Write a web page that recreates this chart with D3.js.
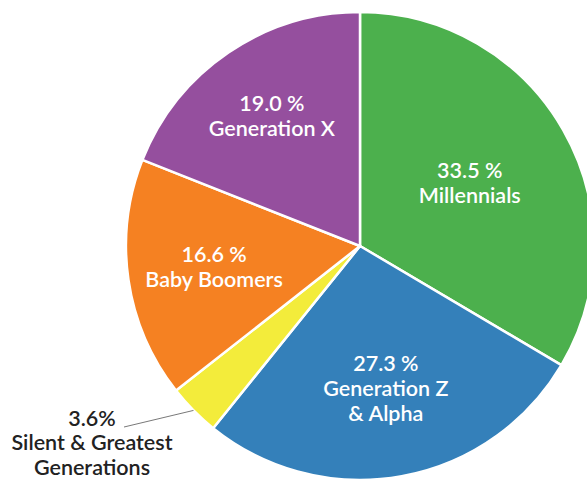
<!DOCTYPE html>
<html>
<head>
<meta charset="utf-8">
<script src="https://cdn.jsdelivr.net/npm/d3@7"></script>
<style>
    body { margin: 0; background: #fff; }
    svg { display: block; font-family: Lato, "Open Sans", sans-serif; }
</style>
</head>
<body>
<div id="chart"></div>
<script>
// data
const generations = ["Millennials", "Generation Z\n& Alpha", "Silent & Greatest\nGenerations", "Baby Boomers", "Generation X"];
const shares = [33.5, 27.3, 3.6, 16.6, 19.0];
const shareLabels = ["33.5 %", "27.3 %", "3.6%", "16.6 %", "19.0 %"];
const colors = ["#4cb04d", "#3480ba", "#f3ec3b", "#f58122", "#954f9e"];

const width = 587, height = 481;
const cx = 360, cy = 246, radius = 234;
const fontSize = 21.5, lineH = 25;

// label distance from centre, as fraction of radius (inside labels)
const labelRadius = [0.54, 0.62, null, 0.63, 0.67];

const svg = d3.select("#chart")
    .append("svg")
    .attr("width", width)
    .attr("height", height);

const chart = svg.append("g")
    .attr("transform", `translate(${cx},${cy})`);

const data = generations.map((g, i) => ({ name: g, value: shares[i], label: shareLabels[i], color: colors[i], i: i }));

const pie = d3.pie()
    .value(d => d.value)
    .sort(null);

const arcs = pie(data);

const arc = d3.arc()
    .innerRadius(0)
    .outerRadius(radius);

chart.selectAll("path")
    .data(arcs)
    .enter().append("path")
    .attr("d", arc)
    .attr("fill", d => d.data.color)
    .attr("stroke", "#fff")
    .attr("stroke-width", 2.5)
    .attr("stroke-linejoin", "round");

// inside labels
const inside = arcs.filter(d => labelRadius[d.data.i] !== null);

const labels = chart.selectAll(".label")
    .data(inside)
    .enter().append("text")
    .attr("class", "label")
    .attr("text-anchor", "middle")
    .attr("fill", "#fff")
    .attr("font-size", fontSize)
    .attr("font-weight", 600)
    .attr("transform", d => {
        const r = radius * labelRadius[d.data.i];
        const a = (d.startAngle + d.endAngle) / 2;
        const lines = d.data.name.split("\n").length + 1;
        const y = -Math.cos(a) * r - (lines - 1) * lineH / 2;
        return `translate(${Math.sin(a) * r},${y})`;
    });

labels.each(function (d) {
    const t = d3.select(this);
    const lines = [d.data.label].concat(d.data.name.split("\n"));
    lines.forEach((l, k) => {
        t.append("tspan")
            .attr("x", 0)
            .attr("y", k * lineH)
            .attr("dy", "0.35em")
            .text(l);
    });
});

// outside label for the small slice
const small = arcs.filter(d => labelRadius[d.data.i] === null);

small.forEach(d => {
    const a = (d.startAngle + d.endAngle) / 2;
    const x0 = Math.sin(a) * radius, y0 = -Math.cos(a) * radius;
    const x1 = 124 - cx, y1 = 427 - cy;

    chart.append("line")
        .attr("x1", x0)
        .attr("y1", y0)
        .attr("x2", x1)
        .attr("y2", y1)
        .attr("stroke", "#555")
        .attr("stroke-width", 0.8);

    const t = chart.append("text")
        .attr("text-anchor", "middle")
        .attr("fill", "#222")
        .attr("font-size", fontSize)
        .attr("font-weight", 600);

    const lines = [d.data.label].concat(d.data.name.split("\n"));
    lines.forEach((l, k) => {
        t.append("tspan")
            .attr("x", 92 - cx)
            .attr("y", 418 - cy + k * 24.5)
            .attr("dy", "0.35em")
            .text(l);
    });
});
</script>
</body>
</html>
